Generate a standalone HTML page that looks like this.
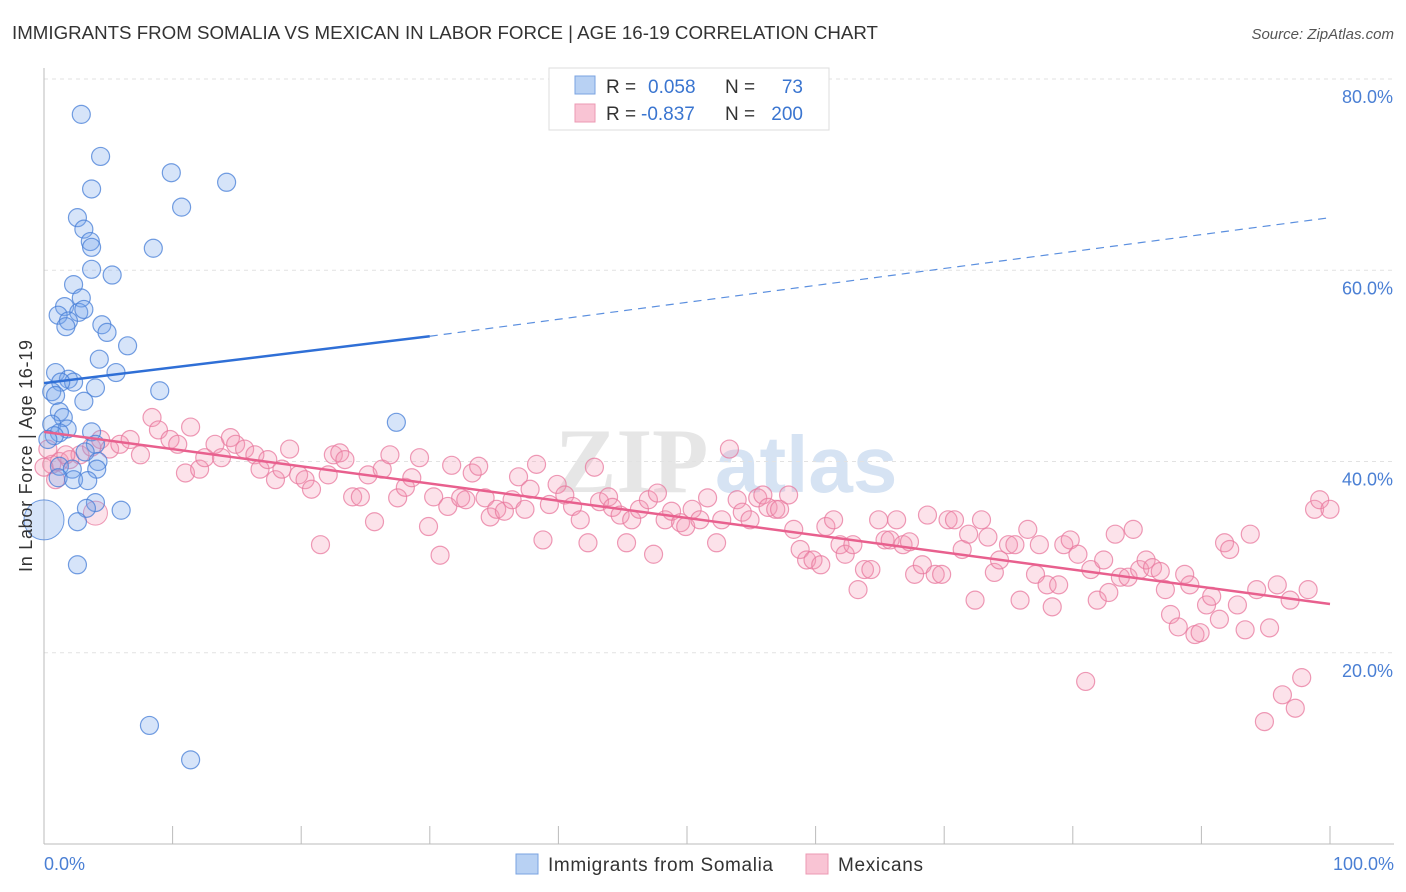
<!DOCTYPE html>
<html><head><meta charset="utf-8"><style>
body{margin:0;background:#fff;font-family:"Liberation Sans",sans-serif;}
svg{display:block}
</style></head><body>
<svg id="chart" width="1406" height="892">
<text x="12" y="39" font-size="18" fill="#333" textLength="866" lengthAdjust="spacingAndGlyphs">IMMIGRANTS FROM SOMALIA VS MEXICAN IN LABOR FORCE | AGE 16-19 CORRELATION CHART</text>
<text x="1394" y="39" font-size="15" fill="#555" font-style="italic" text-anchor="end">Source: ZipAtlas.com</text>
<g>
<text x="555" y="492" font-size="92" fill="#e6e6e6" font-family="Liberation Serif,serif" font-weight="bold">ZIP</text>
<text x="715" y="492" font-size="80" fill="#d6e3f3" font-weight="bold">atlas</text>
</g>
<g id="grid"></g>
<g id="axes"></g>
<g id="pts"></g>
<g id="lines"></g>
<text x="32" y="456" font-size="18" fill="#333" text-anchor="middle" textLength="232" transform="rotate(-90 32 456)">In Labor Force | Age 16-19</text>
<text x="44" y="870" font-size="18" fill="#4a7fd4">0.0%</text>
<text x="1394" y="870" font-size="18" fill="#4a7fd4" text-anchor="end">100.0%</text>
<g>
<rect x="549" y="68" width="280" height="62" fill="#fff" stroke="#ddd"/>
<rect x="575" y="76" width="20" height="18" fill="#b8d1f3" stroke="#7aa3e0"/>
<rect x="575" y="104" width="20" height="18" fill="#f9c4d4" stroke="#ec9ab3"/>
<text x="606" y="93" font-size="19" fill="#333">R =</text>
<text x="648" y="93" font-size="19" fill="#3a75d0">0.058</text>
<text x="725" y="93" font-size="19" fill="#333">N =</text>
<text x="803" y="93" font-size="19" fill="#3a75d0" text-anchor="end">73</text>
<text x="606" y="120" font-size="19" fill="#333">R =</text>
<text x="641" y="120" font-size="19" fill="#3a75d0">-0.837</text>
<text x="725" y="120" font-size="19" fill="#333">N =</text>
<text x="803" y="120" font-size="19" fill="#3a75d0" text-anchor="end">200</text>
</g>
<g>
<rect x="516" y="854" width="22" height="20" fill="#b8d1f3" stroke="#7aa3e0"/>
<text x="548" y="871" font-size="19" fill="#333" textLength="225">Immigrants from Somalia</text>
<rect x="806" y="854" width="22" height="20" fill="#f9c4d4" stroke="#ec9ab3"/>
<text x="838" y="871" font-size="19" fill="#333" textLength="85">Mexicans</text>
</g>
</svg>
<script>
const yTicks=[20,40,60,80];
const yTickLabels=["20.0%","40.0%","60.0%","80.0%"];
const xTicks=[0,10,20,30,40,50,60,70,80,90,100];
const somaliaX=[2.9,4.4,9.9,14.2,3.7,10.7,2.6,3.1,3.6,3.7,8.5,3.7,5.3,2.3,1.6,2.9,1.1,2.7,3.1,1.9,1.7,4.5,4.9,6.5,4.3,5.6,0.9,1.9,2.3,1.3,9.0,4.0,0.6,0.9,3.1,1.2,1.5,27.4,0.6,3.7,1.8,1.2,0.8,0.3,4.0,3.2,4.2,1.2,2.2,4.1,1.1,2.3,3.4,4.0,3.3,6.0,2.6,2.6,8.2,11.4];
const somaliaY=[76.3,71.9,70.2,69.2,68.5,66.6,65.5,64.3,63.0,62.4,62.3,60.1,59.5,58.5,56.2,57.1,55.3,55.6,55.9,54.7,54.1,54.3,53.5,52.1,50.7,49.3,49.3,48.6,48.3,48.3,47.4,47.7,47.3,46.9,46.3,45.2,44.6,44.1,43.9,43.1,43.4,43.0,42.7,42.3,41.8,41.0,40.0,39.5,39.2,39.2,38.3,38.1,38.0,35.7,35.1,34.9,33.7,29.2,12.4,8.8];
const mexX=[0.6,1.2,2.0,2.8,3.7,4.4,5.1,5.9,6.7,7.5,8.4,8.9,9.8,10.4,11.0,11.4,12.1,12.5,13.3,13.8,14.5,14.9,15.6,16.4,16.8,17.4,18.0,18.5,19.1,19.8,20.3,20.8,21.5,22.1,22.5,23.0,23.4,24.0,24.6,25.2,25.7,26.3,26.9,27.5,28.1,28.6,29.2,29.9,30.3,30.8,31.4,31.7,32.4,32.8,33.3,33.8,34.3,34.7,35.2,35.8,36.4,36.9,37.4,37.8,38.3,38.8,39.3,39.9,40.5,41.1,41.7,42.3,42.8,43.2,43.9,44.2,44.8,45.3,45.7,46.3,47.0,47.4,47.7,48.3,48.8,49.5,49.9,50.4,51.0,51.6,52.3,52.7,53.3,53.9,54.3,54.9,55.5,55.9,56.3,56.9,57.2,57.9,58.3,58.8,59.3,59.8,60.4,60.8,61.4,61.9,62.3,62.9,63.3,63.8,64.3,64.9,65.4,65.8,66.3,66.8,67.3,67.7,68.3,68.7,69.3,69.8,70.3,70.8,71.4,71.9,72.4,72.9,73.4,73.9,74.3,75.0,75.5,75.9,76.5,77.1,77.4,78.0,78.4,78.9,79.3,79.8,80.4,81.0,81.4,81.9,82.4,82.8,83.3,83.7,84.3,84.7,85.2,85.7,86.2,86.8,87.2,87.6,88.2,88.7,89.1,89.5,89.9,90.4,90.8,91.4,91.8,92.2,92.8,93.4,93.8,94.3,94.9,95.3,95.9,96.3,96.9,97.3,97.8,98.3,98.8,99.2,100,0,0.3,0.9,1.7];
const mexY=[39.7,40.0,40.2,40.7,41.5,42.3,41.3,41.8,42.3,40.7,44.6,43.3,42.3,41.8,38.8,43.6,39.2,40.4,41.8,40.4,42.5,41.8,41.3,40.7,39.2,40.2,38.1,39.2,41.3,38.6,38.1,37.1,31.3,38.6,40.7,40.9,40.2,36.3,36.3,38.6,33.7,39.2,40.7,36.2,37.3,38.3,40.4,33.2,36.3,30.2,35.3,39.6,36.2,36.0,38.8,39.5,36.2,34.2,35.0,34.8,36.0,38.4,35.0,37.1,39.7,31.8,35.5,37.6,36.5,35.3,33.9,31.5,39.4,35.8,36.3,35.2,34.4,31.5,33.9,35.0,36.0,30.3,36.7,33.9,34.8,33.6,33.2,35.0,33.9,36.2,31.5,33.9,41.3,36.0,34.7,33.9,36.2,36.5,35.2,35.0,35.0,36.5,32.9,30.8,29.7,29.7,29.2,33.2,33.9,31.3,30.3,31.3,26.6,28.7,28.7,33.9,31.8,31.8,33.9,31.3,31.6,28.2,29.2,34.4,28.2,28.2,33.9,33.9,30.8,32.4,25.5,33.9,32.1,28.4,29.7,31.3,31.3,25.5,32.9,28.2,31.3,27.1,24.8,27.1,31.3,31.8,30.3,17.0,28.7,25.5,29.7,26.3,32.4,27.9,27.9,32.9,28.7,29.7,28.9,28.5,26.6,24.0,22.7,28.2,27.1,21.9,22.1,25.0,25.9,23.5,31.5,30.8,25.0,22.4,32.4,26.6,12.8,22.6,27.1,15.6,25.5,14.2,17.4,26.6,35.0,36.0,35.0,39.4,41.3,38.1,40.7];
const blueFit=[48.2,53.1,65.5]; // at x=0,30,100
const pinkFit=[43.1,25.1]; // at x=0,100

const NS="http://www.w3.org/2000/svg";
const X0=44,X1=1330,Y0=844,Y80=79;
const sx=v=>X0+(X1-X0)*v/100;
const sy=v=>Y0-(Y0-Y80)*v/80;
function mk(tag,attrs,parent){const e=document.createElementNS(NS,tag);for(const k in attrs)e.setAttribute(k,attrs[k]);parent.appendChild(e);return e;}
const grid=document.getElementById('grid'),axes=document.getElementById('axes'),pts=document.getElementById('pts'),lines=document.getElementById('lines');
yTicks.forEach((t,i)=>{
 const l=mk('line',{x1:X0,x2:1394,y1:sy(t),y2:sy(t),stroke:'#e2e2e2','stroke-dasharray':'4,4'},grid);
 
 
 const tx=mk('text',{x:1393,y:sy(t)+24,'font-size':18,fill:'#4a7fd4','text-anchor':'end'},grid);
 tx.textContent=yTickLabels[i];
 
 
});
const ya=mk('line',{x1:X0,x2:X0,y1:68,y2:Y0,stroke:'#bbb'},axes);


const xa=mk('line',{x1:X0,x2:1394,y1:Y0,y2:Y0,stroke:'#bbb'},axes);


xTicks.forEach(t=>{const k=mk('line',{x1:sx(t),x2:sx(t),y1:Y0,y2:Y0-18,stroke:'#bbb'},axes);
 
 });
mexX.forEach((x,i)=>{const c=mk('circle',{cx:sx(x),cy:sy(mexY[i]),r:9,fill:'rgba(244,150,180,0.28)',stroke:'rgba(232,120,158,0.75)','stroke-width':1.2},pts);
 
 });
const big=mk('circle',{cx:sx(4.0),cy:sy(34.6),r:12,fill:'rgba(244,150,180,0.28)',stroke:'rgba(232,120,158,0.75)'},pts);


somaliaX.forEach((x,i)=>{const c=mk('circle',{cx:sx(x),cy:sy(somaliaY[i]),r:9,fill:'rgba(120,165,235,0.3)',stroke:'rgba(70,125,215,0.75)','stroke-width':1.2},pts);
 
 });
const bb=mk('circle',{cx:sx(0),cy:sy(33.9),r:20,fill:'rgba(120,165,235,0.3)',stroke:'rgba(70,125,215,0.75)'},pts);


const b1=mk('line',{x1:sx(0),y1:sy(blueFit[0]),x2:sx(30),y2:sy(blueFit[1]),stroke:'#2f6fd6','stroke-width':2.5},lines);


const b2=mk('line',{x1:sx(30),y1:sy(blueFit[1]),x2:sx(100),y2:sy(blueFit[2]),stroke:'#5b8fdf','stroke-width':1.2,'stroke-dasharray':'8,6'},lines);


const p1=mk('line',{x1:sx(0),y1:sy(pinkFit[0]),x2:sx(100),y2:sy(pinkFit[1]),stroke:'#e8608e','stroke-width':2.5},lines);


</script>
</body></html>
